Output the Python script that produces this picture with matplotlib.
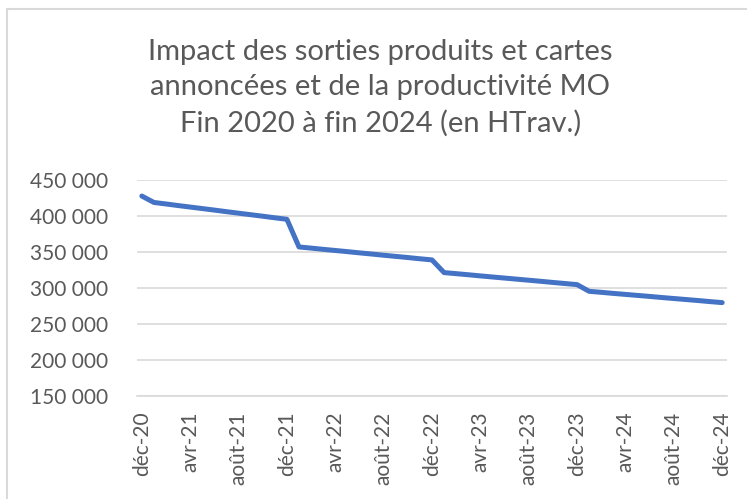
import matplotlib.pyplot as plt
from matplotlib.patches import Rectangle

# monthly labels, déc-20 .. déc-24 (Excel-style French abbreviations)
months_fr = ['janv.', 'févr.', 'mars', 'avr.', 'mai', 'juin',
             'juil.', 'août', 'sept.', 'oct.', 'nov.', 'déc.']
month_labels = ['déc-20'] + ['%s-%d' % (m.rstrip('.'), y) for y in (21, 22, 23, 24) for m in months_fr]

# HTrav. values
htrav = [427700,
         418800, 416700, 414500, 412400, 410300, 408200, 406000, 403900, 401800, 399700, 397500, 395400,
         357000, 355400, 353700, 352100, 350500, 348800, 347200, 345500, 343900, 342300, 340600, 339000,
         321400, 319900, 318400, 316800, 315300, 313800, 312300, 310800, 309300, 307700, 306200, 304700,
         295400, 294000, 292500, 291100, 289700, 288300, 286800, 285400, 284000, 282600, 281100, 279700]

y_ticks = [150000, 200000, 250000, 300000, 350000, 400000, 450000]

title = ('Impact des sorties produits et cartes\n'
         'annoncées et de la productivité MO\n'
         'Fin 2020 à fin 2024 (en HTrav.)')

plt.rcParams['font.family'] = ['Lato', 'DejaVu Sans']
grey_txt = '#595959'
grey_line = '#D9D9D9'

fig = plt.figure(figsize=(7.47, 4.99), dpi=100)
ax = fig.add_axes([0.1834, 0.2064, 0.7898, 0.4329])

# chart area border (cropped on right and bottom)
fig.patches.append(Rectangle((7 / 747, -0.1), 1.2, 1 - 9.5 / 499 + 0.1, transform=fig.transFigure,
                             fill=False, edgecolor=grey_line, linewidth=1.5))

x = list(range(len(htrav)))
ax.plot(x, htrav, color='#4472C4', linewidth=3.6, solid_capstyle='round', solid_joinstyle='round')

ax.set_ylim(150000, 450000)
ax.set_xlim(-0.4, len(htrav) - 0.6)
ax.set_yticks(y_ticks)
ax.set_yticklabels(['{:,}'.format(v).replace(',', ' ') for v in y_ticks])
ax.set_xticks(x[::4])
ax.set_xticklabels(month_labels[::4], rotation=90, ha='center', va='top')
ax.tick_params(axis='both', length=0, colors=grey_txt, labelsize=15)
ax.tick_params(axis='y', pad=21)
ax.tick_params(axis='x', pad=11)
ax.grid(axis='y', color=grey_line, linewidth=1.2)
ax.set_axisbelow(True)
for s in ['left', 'right', 'top']:
    ax.spines[s].set_visible(False)
ax.spines['bottom'].set_color(grey_line)
ax.spines['bottom'].set_linewidth(1.2)

fig.text(0.509, 0.824, title, ha='center', va='center', fontsize=21, color=grey_txt, linespacing=1.42)

fig.savefig('out.png', dpi=100)
